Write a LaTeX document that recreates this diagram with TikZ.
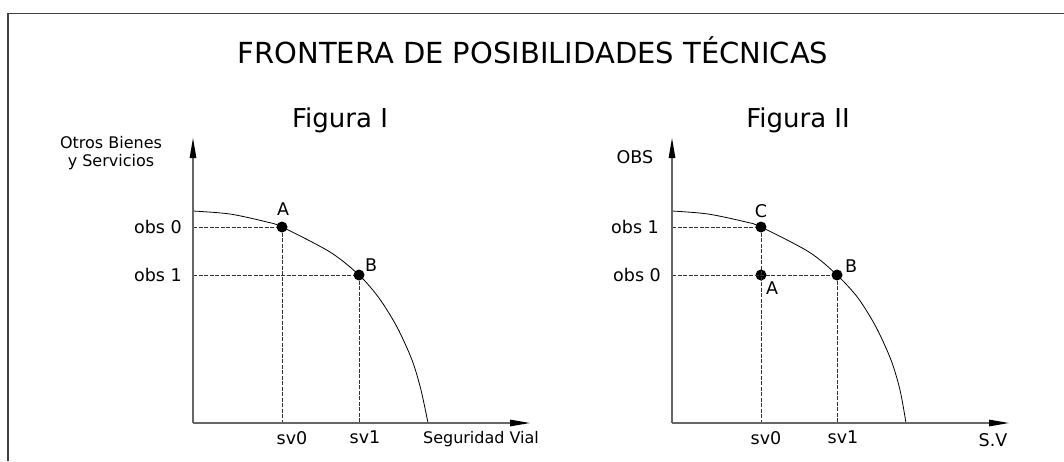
\documentclass[tikz,border=0pt]{standalone}
\usepackage{fontspec}
\setmainfont{DejaVu Sans}
\usetikzlibrary{arrows.meta}

\tikzset{
    axis/.style={draw=black!60, line width=1.2pt, -{Triangle[length=20pt, width=6.5pt, color=black]}},
    guide/.style={black!80, line width=0.6pt, dash pattern=on 4pt off 1.5pt},
    frontier/.style={black, line width=0.8pt},
    dot/.style={circle, fill=black, inner sep=0pt, minimum size=11pt},
    lbl/.style={font=\fontsize{17.5}{20}\selectfont, inner sep=1pt},
    small/.style={font=\fontsize{16}{18.5}\selectfont, inner sep=1pt, align=center},
    head/.style={font=\fontsize{26}{30}\selectfont, inner sep=1pt},
}

\begin{document}
\begin{tikzpicture}[x=1pt, y=-1pt]

    \useasboundingbox (0,0) rectangle (1064,461);
    % Frame
    \draw[line width=1.3pt, black!75] (8,461) -- (8,13.5) -- (1064,13.5);
    % Title
    \node[font=\fontsize{29}{33}\selectfont, inner sep=1pt] (title) at (533,50) {FRONTERA DE POSIBILIDADES TÉCNICAS};

    % ---- Figura I ----
    \def\xo{193}    % origin, x
    \def\yo{423}    % origin, y
    \node[head] (figI) at (340,120) {Figura I};
    \coordinate (oI) at (\xo, \yo);
    \coordinate (yI) at (\xo, 138);
    \coordinate (xI) at (530, \yo);
    % Frontier
    \draw[frontier] plot[smooth, tension=0.5] coordinates {(\xo,211) (230,214) (267,222) (282,227) (330,252) (359,275) (379,298) (397,327) (412,360) (421,390) (428,\yo)};
    % Points
    \node[dot] (AI) at (282,227) {};
    \node[dot] (BI) at (359,275) {};
    \coordinate (obs0I) at (\xo,227);
    \coordinate (obs1I) at (\xo,275);
    \coordinate (sv0I) at (282,\yo);
    \coordinate (sv1I) at (359,\yo);
    % Guides
    \draw[guide] (obs0I) -- (AI) -- (sv0I);
    \draw[guide] (obs1I) -- (BI) -- (sv1I);
    % Axes
    \draw[axis] (oI) -- (yI);
    \draw[axis] (oI) -- (xI);
    % Labels
    \node[lbl] (labAI) at (283,209) {A};
    \node[lbl] (labBI) at (371,265) {B};
    \node[lbl, anchor=east] (labobs0I) at (183,227) {obs 0};
    \node[lbl, anchor=east] (labobs1I) at (183,275) {obs 1};
    \node[lbl] (labsv0I) at (292,438) {sv0};
    \node[lbl] (labsv1I) at (365,437) {sv1};
    \node[small] (labxI) at (481,439) {Seguridad Vial};
    \node[small] (labyI) at (111,153) {Otros Bienes\\y Servicios};

    % ---- Figura II ----
    \def\xo{672}    % origin, x
    \def\yo{423}    % origin, y
    \node[head] (figII) at (798,120) {Figura II};
    \coordinate (oII) at (\xo, \yo);
    \coordinate (yII) at (\xo, 138);
    \coordinate (xII) at (1009, \yo);
    % Frontier
    \draw[frontier] plot[smooth, tension=0.5] coordinates {(\xo,211) (708,214) (746,222) (761,227) (809,252) (837,275) (858,298) (876,327) (891,360) (900,390) (906,\yo)};
    % Points
    \node[dot] (CII) at (761,227) {};
    \node[dot] (AII) at (761,275) {};
    \node[dot] (BII) at (837,275) {};
    \coordinate (obs1II) at (\xo,227);
    \coordinate (obs0II) at (\xo,275);
    \coordinate (sv0II) at (761,\yo);
    \coordinate (sv1II) at (837,\yo);
    % Guides
    \draw[guide] (obs1II) -- (CII) -- (sv0II);
    \draw[guide] (obs0II) -- (BII) -- (sv1II);
    % Axes
    \draw[axis] (oII) -- (yII);
    \draw[axis] (oII) -- (xII);
    % Labels
    \node[lbl] (labCII) at (761,211) {C};
    \node[lbl] (labAII) at (772,288) {A};
    \node[lbl] (labBII) at (851,266) {B};
    \node[lbl, anchor=east] (labobs1II) at (660,227) {obs 1};
    \node[lbl, anchor=east] (labobs0II) at (662,275) {obs 0};
    \node[lbl] (labsv0II) at (766,438) {sv0};
    \node[lbl] (labsv1II) at (843,437) {sv1};
    \node[lbl] (labxII) at (993,440) {S.V};
    \node[lbl] (labyII) at (635,157) {OBS};

\end{tikzpicture}
\end{document}
